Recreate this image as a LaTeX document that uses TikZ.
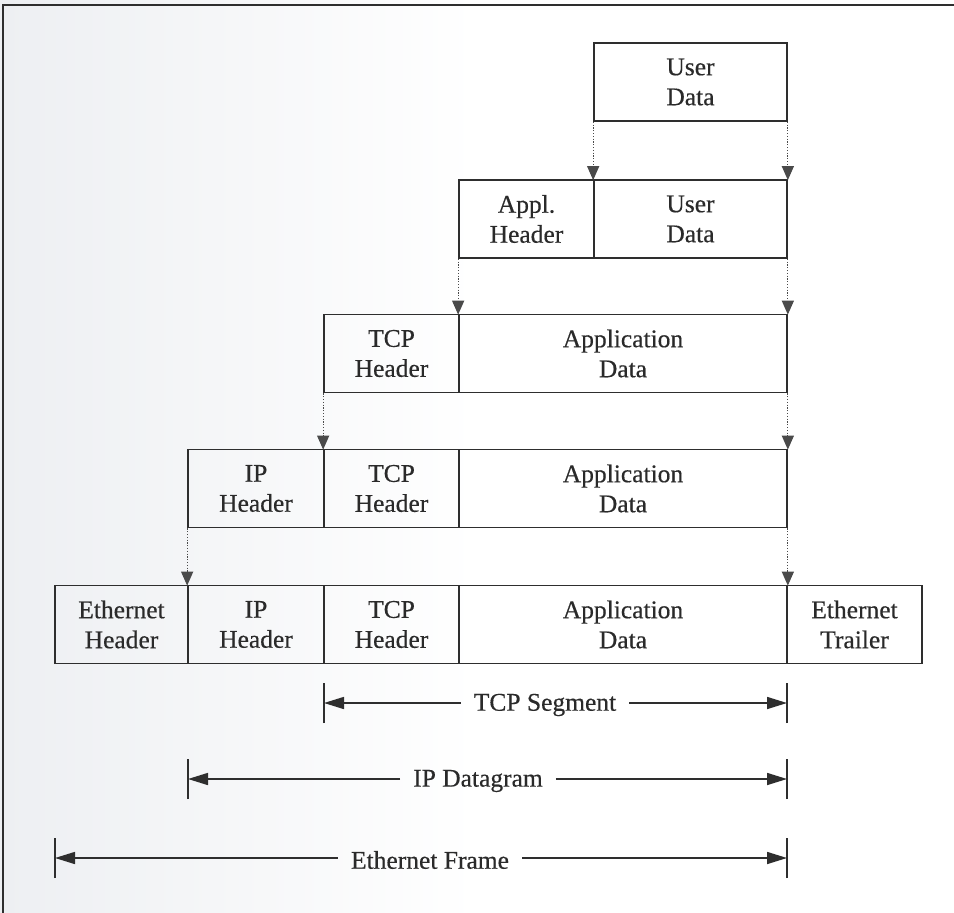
\documentclass[tikz,border=0pt]{standalone}
\usepackage{fontspec}
\setmainfont{Liberation Serif}
\newfontfamily\labelfont{Liberation Serif}[FakeBold=0.4]
\usetikzlibrary{arrows.meta}
\definecolor{ink}{HTML}{2E2E2E}
\definecolor{textink}{HTML}{2A2A2A}
\definecolor{dotink}{HTML}{4A4A4A}
\definecolor{paperleft}{HTML}{EDEFF2}
\begin{document}
\begin{tikzpicture}[x=1pt,y=-1pt,
  cell/.style={draw=ink, line width=1.7pt, minimum height=78pt, inner sep=0pt,
    align=center, text=textink, font=\labelfont\fontsize{25.5}{30}\selectfont},
  drop/.style={draw=dotink, line width=1.2pt, dash pattern=on 1.2pt off 1.6pt,
    -{Triangle[length=14pt,width=12pt]}, shorten >=-1pt},
  dimarrow/.style={draw=ink, line width=1.6pt, -{Triangle[length=20pt,width=12pt]}},
  dimtick/.style={draw=ink, line width=1.8pt},
  dimlabel/.style={inner xsep=13pt, inner ysep=0pt, text=textink,
    font=\labelfont\fontsize{25.5}{30}\selectfont}]
  % page area and its frame
  \useasboundingbox (0,0) rectangle (954,913);
  \shade[left color=paperleft, right color=white, middle color=white]
    (0,0) rectangle (954,913);
  \draw[ink, line width=2.6pt] (3,913) -- (3,5) -- (954,5);

  % layer 1: user data
  \node[cell, minimum width=193pt] (r1d) at (690.5,82) {User\\Data};
  % layer 2: application header + user data
  \node[cell, minimum width=135pt] (r2h) at (526.5,219) {Appl.\\Header};
  \node[cell, minimum width=193pt] (r2d) at (690.5,219) {User\\Data};
  % layer 3: TCP header + application data
  \node[cell, minimum width=135pt] (r3t) at (391.5,353.5) {TCP\\Header};
  \node[cell, minimum width=328pt] (r3d) at (623,353.5) {Application\\Data};
  % layer 4: IP header + TCP segment
  \node[cell, minimum width=136pt] (r4i) at (256,488.5) {IP\\Header};
  \node[cell, minimum width=135pt] (r4t) at (391.5,488.5) {TCP\\Header};
  \node[cell, minimum width=328pt] (r4d) at (623,488.5) {Application\\Data};
  % layer 5: Ethernet frame
  \node[cell, minimum width=133pt] (r5e) at (121.5,624.5) {Ethernet\\Header};
  \node[cell, minimum width=136pt] (r5i) at (256,624.5) {IP\\Header};
  \node[cell, minimum width=135pt] (r5t) at (391.5,624.5) {TCP\\Header};
  \node[cell, minimum width=328pt] (r5d) at (623,624.5) {Application\\Data};
  \node[cell, minimum width=135pt] (r5r) at (854.5,624.5) {Ethernet\\Trailer};

  % encapsulation arrows
  \draw[drop] (r1d.south west) -- (r2d.north west);
  \draw[drop] (r1d.south east) -- (r2d.north east);
  \draw[drop] (r2h.south west) -- (r3d.north west);
  \draw[drop] (r2d.south east) -- (r3d.north east);
  \draw[drop] (r3t.south west) -- (r4t.north west);
  \draw[drop] (r3d.south east) -- (r4d.north east);
  \draw[drop] (r4i.south west) -- (r5i.north west);
  \draw[drop] (r4d.south east) -- (r5d.north east);

  % extent markers
  \coordinate (tcpL) at (324,703);
  \coordinate (tcpR) at (787,703);
  \coordinate (ipL) at (188,779);
  \coordinate (ipR) at (787,779);
  \coordinate (ethL) at (55,858);
  \coordinate (ethR) at (787,858);
  \foreach \c in {tcpL,tcpR,ipL,ipR,ethL,ethR}
    \draw[dimtick] ([yshift=-20pt]\c) -- ([yshift=20pt]\c);

  \node[dimlabel] (tcpT) at (545,705) {TCP Segment};
  \node[dimlabel] (ipT) at (478,781) {IP Datagram};
  \node[dimlabel] (ethT) at (430,860) {Ethernet Frame};
  \draw[dimarrow] (tcpT.west |- tcpL) -- (tcpL);
  \draw[dimarrow] (tcpT.east |- tcpR) -- (tcpR);
  \draw[dimarrow] (ipT.west |- ipL) -- (ipL);
  \draw[dimarrow] (ipT.east |- ipR) -- (ipR);
  \draw[dimarrow] (ethT.west |- ethL) -- (ethL);
  \draw[dimarrow] (ethT.east |- ethR) -- (ethR);
\end{tikzpicture}
\end{document}
